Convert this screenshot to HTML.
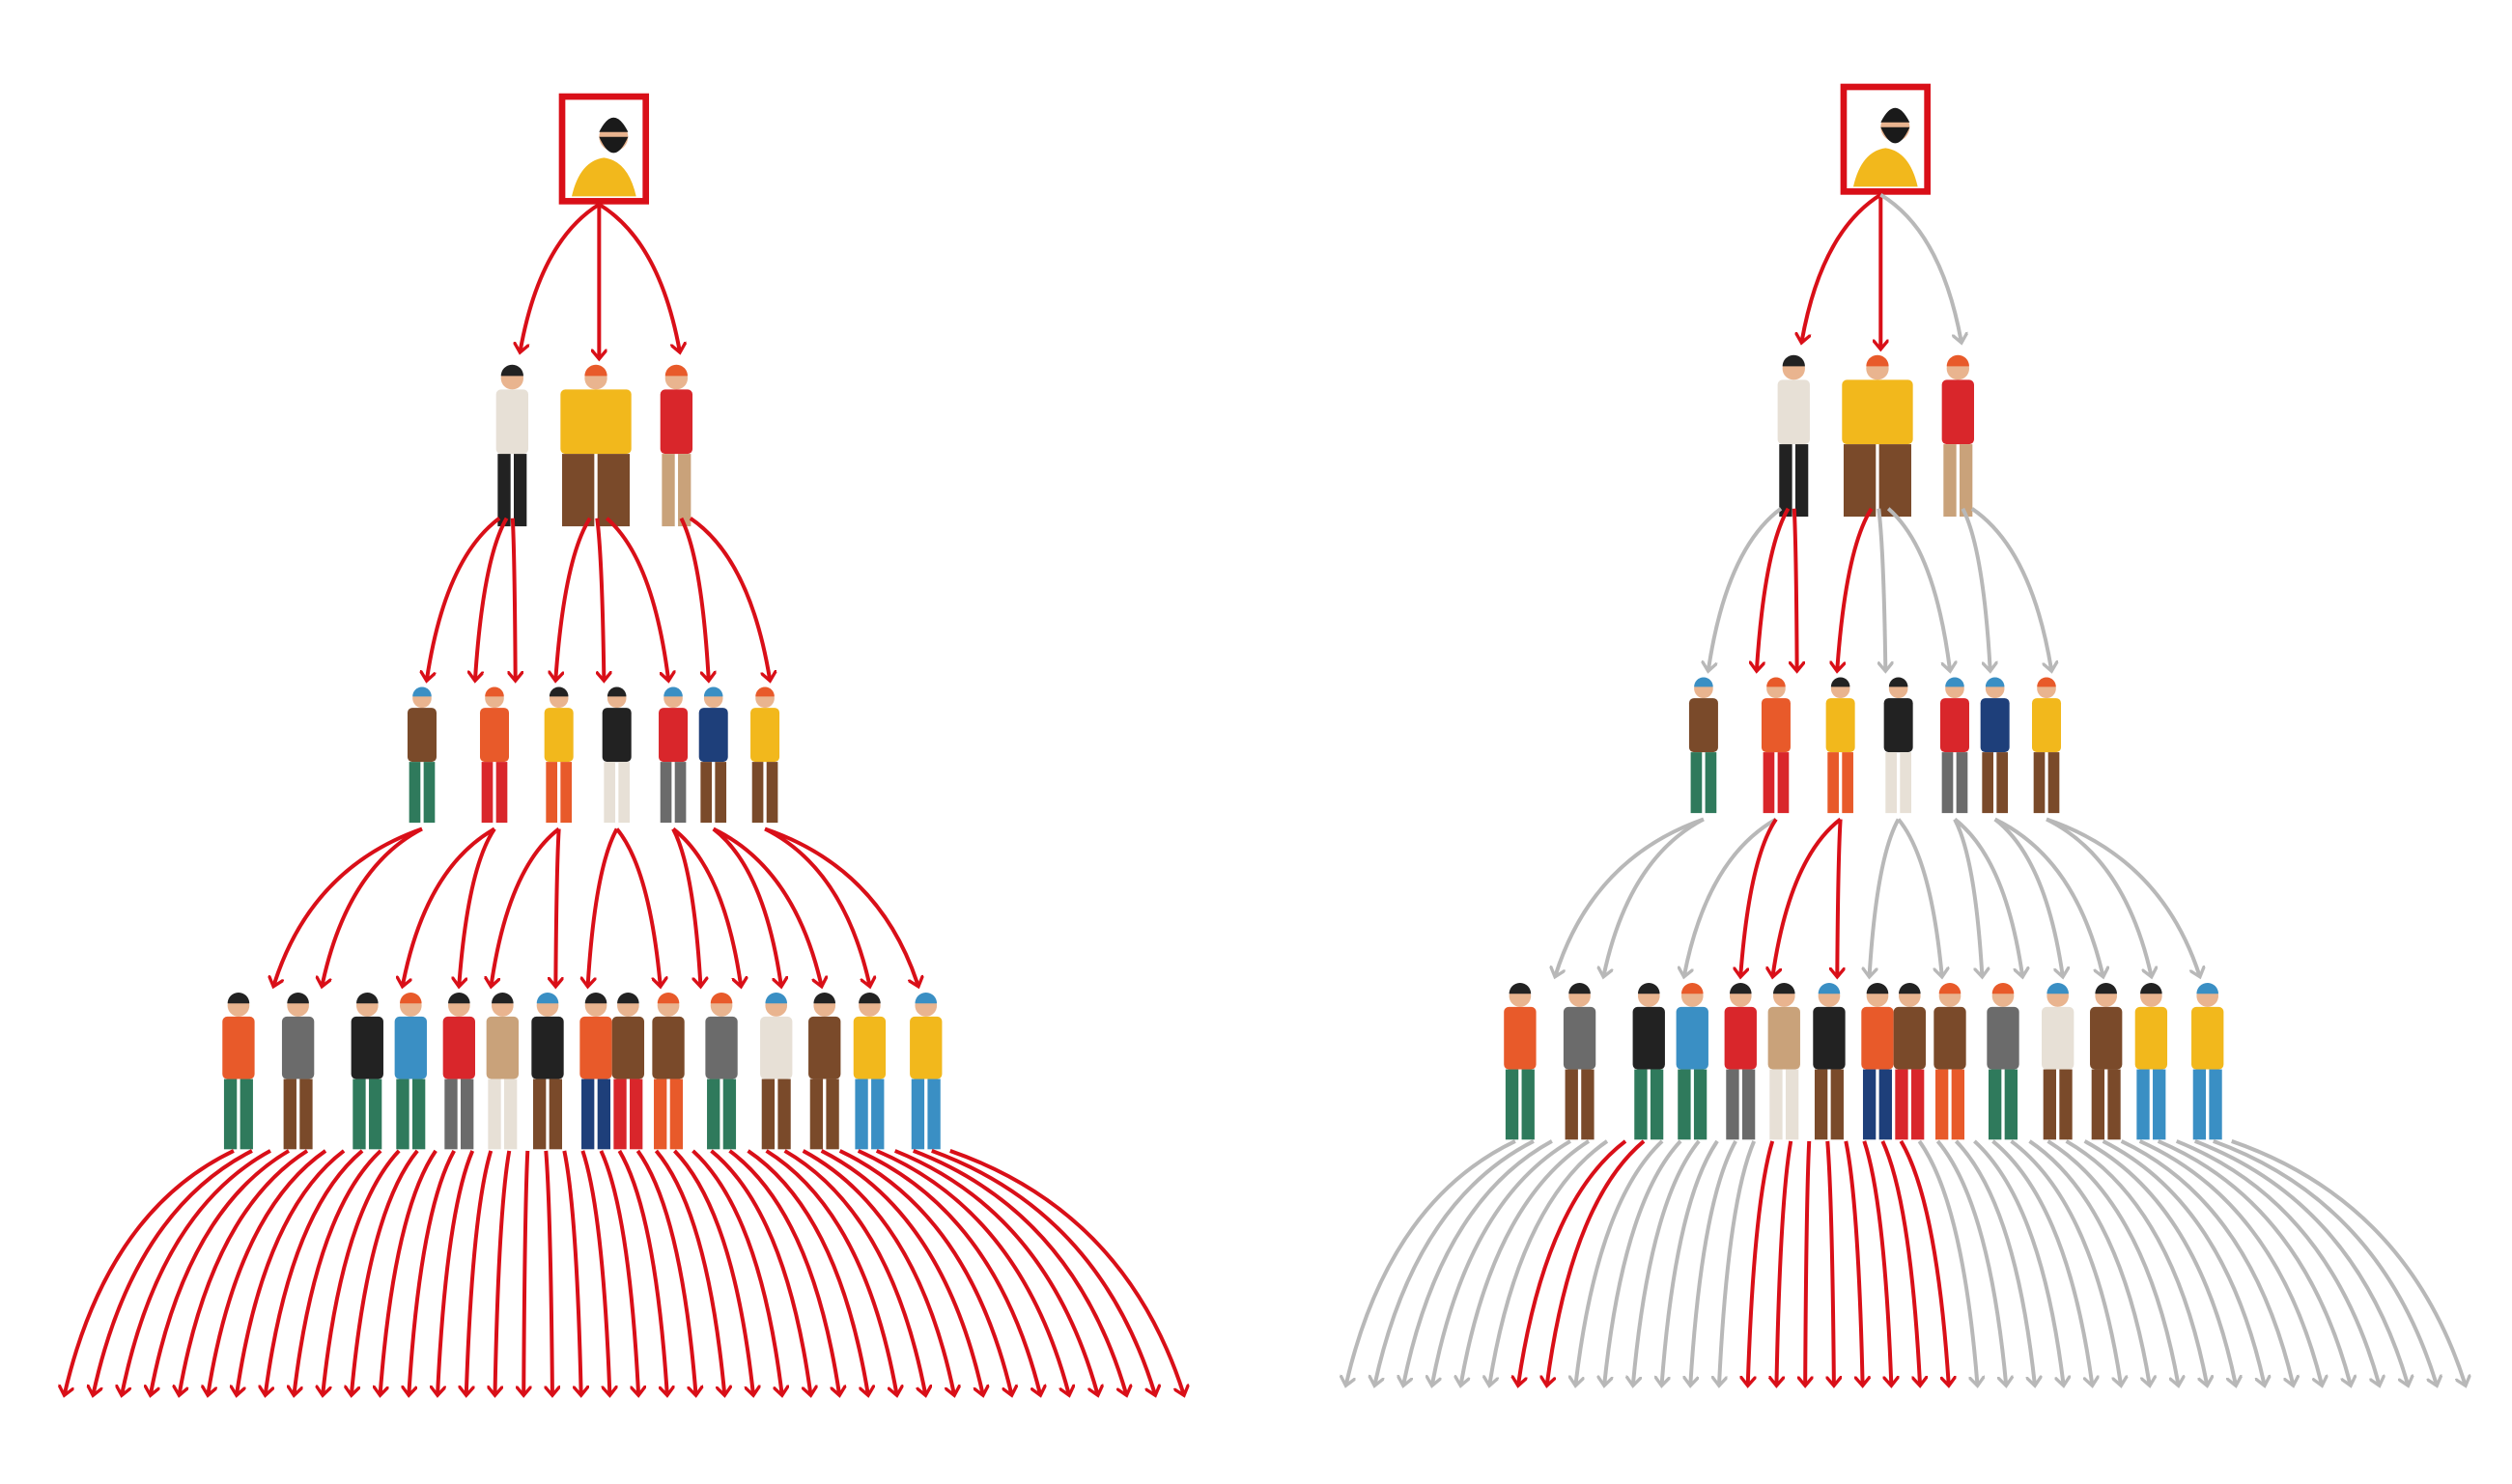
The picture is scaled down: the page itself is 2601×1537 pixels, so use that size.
<!DOCTYPE html>
<html><head><meta charset="utf-8"><style>
html,body{margin:0;padding:0;background:#fff;}
svg{display:block;}
</style></head><body>
<svg id="s" width="2601" height="1537" viewBox="0 0 1560 922" xmlns="http://www.w3.org/2000/svg">
<defs>
<marker id="mr" markerWidth="10" markerHeight="10" refX="5" refY="5" orient="auto" markerUnits="userSpaceOnUse"><path d="M0,0 L6,5 L0,10" fill="none" stroke="#d90f18" stroke-width="2"/></marker>
<marker id="mg" markerWidth="10" markerHeight="10" refX="5" refY="5" orient="auto" markerUnits="userSpaceOnUse"><path d="M0,0 L6,5 L0,10" fill="none" stroke="#b8b8b8" stroke-width="2"/></marker>
</defs>
<g id="g"></g>
</svg>
<script>
var g=document.getElementById('g');var NS='http://www.w3.org/2000/svg';
function el(t,a){var e=document.createElementNS(NS,t);for(var k in a)e.setAttribute(k,a[k]);g.appendChild(e);return e;}
var seed=7;function rnd(){seed=(seed*9301+49297)%233280;return seed/233280;}
var pal=['#d9262b','#1e3f7a','#f2b81c','#2f7a5c','#7a4a2a','#e7e0d6','#222','#e85a2a','#3a8fc4','#c9a27a','#6b6b6b'];
function person(x,yt,yb,w){
  var h=yb-yt;var c1=pal[Math.floor(rnd()*pal.length)],c2=pal[Math.floor(rnd()*pal.length)];
  var hr=h*0.07;
  el('circle',{cx:x,cy:yt+hr,r:hr,fill:'#e9b48f'});
  el('path',{d:'M'+(x-hr)+','+(yt+hr*0.8)+' a'+hr+','+hr+' 0 0 1 '+(2*hr)+',0 z',fill:pal[Math.floor(rnd()*3)+6]});
  el('rect',{x:x-w/2,y:yt+2*hr,width:w,height:h*0.4,rx:3,fill:c1});
  el('rect',{x:x-w/2+1,y:yt+2*hr+h*0.4,width:w/2-2,height:h*0.45,fill:c2});
  el('rect',{x:x+1,y:yt+2*hr+h*0.4,width:w/2-2,height:h*0.45,fill:c2});
}
function arrow(sx,sy,tx,ty,red){
  var cx=sx+(tx-sx)*0.75,cy=sy+(ty-sy)*0.25;
  el('path',{d:'M'+sx+','+sy+' Q'+cx+','+cy+' '+tx+','+ty,fill:'none',stroke:red?'#d90f18':'#b8b8b8','stroke-width':2.4,'marker-end':red?'url(#mr)':'url(#mg)'});
}
var L1=[318,370,420],L2=[262,307,347,383,418,443,475];
var L3=[148,185,228,255,285,312,340,370,390,415,448,482,512,540,575];
var T2=[265,295,320,345,375,415,440,478];
var T3=[170,200,250,285,305,345,365,410,435,460,485,510,540,570];
var T4=[];for(var i=0;i<40;i++)T4.push(40+i*(695/39));
function tree(ox,oy,redSet){
  el('rect',{x:349+ox,y:60+oy,width:52,height:65,fill:'none',stroke:'#d90f18','stroke-width':4});
  el('path',{d:'M'+(355+ox)+','+(122+oy)+' q5,-22 20,-24 q15,2 20,24 z',fill:'#f2b81c'});
  el('circle',{cx:381+ox,cy:85+oy,r:9,fill:'#e9b48f'});
  el('path',{d:'M'+(372+ox)+','+(85+oy)+' q9,20 18,0 z',fill:'#1a1a1a'});
  el('path',{d:'M'+(372+ox)+','+(82+oy)+' q9,-18 18,0 z',fill:'#1a1a1a'});
  [[323,218],[372,222],[422,218]].forEach(function(t,i){arrow(372+ox,127+oy,t[0]+ox,t[1]+oy,redSet.a.indexOf(i)>=0);});
  L1.forEach(function(x,j){person(x+ox,228+oy,328+oy,j==1?44:20);});
  T2.forEach(function(t,i){var s=L1[Math.min(2,Math.floor(i*3/8))];arrow(s+ox+(t-s)*0.15,322+oy,t+ox,422+oy,redSet.b.indexOf(i)>=0);});
  L2.forEach(function(x){person(x+ox,428+oy,512+oy,18);});
  T3.forEach(function(t,i){var s=L2[Math.min(6,Math.floor(i*7/14))];arrow(s+ox,515+oy,t+ox,612+oy,redSet.c.indexOf(i)>=0);});
  L3.forEach(function(x){person(x+ox,618+oy,715+oy,20);});
  T4.forEach(function(t,i){var s=145+i*(445/39);arrow(s+ox,715+oy,t+ox,866+oy,redSet.d.indexOf(i)>=0);});
}
var all=[];for(var i=0;i<40;i++)all.push(i);
tree(0,0,{a:[0,1,2],b:[0,1,2,3,4,5,6,7],c:all,d:all});
seed=7;
tree(796,-6,{a:[0,1],b:[1,2,3],c:[3,4,5],d:[6,7,14,15,16,17,18,19,20,21]});
</script>
</body></html>
